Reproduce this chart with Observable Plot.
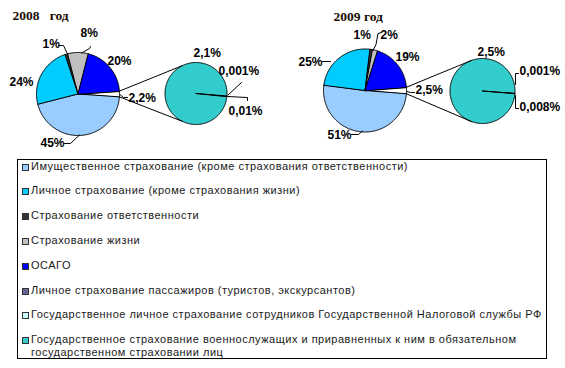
<!DOCTYPE html>
<html><head><meta charset="utf-8">
<script src="https://cdn.jsdelivr.net/npm/d3@7"></script>
<script src="https://cdn.jsdelivr.net/npm/@observablehq/plot@0.6"></script>
<style>
html,body{margin:0;padding:0;background:#fff;}
body{width:565px;height:368px;overflow:hidden;position:relative;font-family:"Liberation Sans",Arial,sans-serif;}
#chart{position:absolute;left:0;top:0;}
#legend{position:absolute;left:17px;top:159px;width:528px;height:198px;border:1px solid #000;background:#fff;}
.item{position:absolute;left:13px;font-size:11px;color:#1a1a1a;line-height:13px;letter-spacing:0.5px;}
.sw{position:absolute;left:4px;width:5px;height:5px;border:1px solid #333;}
</style></head><body>
<div id="chart"></div>
<div id="legend"></div>
<script>
// ---- data ----
const categories = [
  "Имущественное страхование (кроме страхования ответственности)",
  "Личное страхование (кроме страхования жизни)",
  "Страхование ответственности",
  "Страхование жизни",
  "ОСАГО",
  "Личное страхование пассажиров (туристов, экскурсантов)",
  "Государственное личное страхование сотрудников Государственной Налоговой службы РФ",
  "Государственное страхование военнослужащих и приравненных к ним в обязательном государственном страховании лиц"
];
const years = ["2008   год", "2009 год"];
const main2008 = [45, 24, 1, 8, 20];      // first five categories
const other2008 = 2.2;                    // "other" wedge (split into the secondary pie)
const sec2008 = [0.001, 0.01, 2.1];       // last three categories
const main2009 = [51, 25, 1, 2, 19];
const other2009 = 2.5;
const sec2009 = [0.001, 0.008, 2.5];

// ---- styles ----
const colors = ["#99CCFF", "#00CCFF", "#333333", "#C0C0C0", "#0000FF", "#666699", "#CCFFFF", "#33CCCC"];

// ---- layout ----
const W = 565, H = 155;
const deg = Math.PI / 180;
const layout = [
  { c: [77.5, 93.5], r: 41.5, sc: [195.5, 93], sr: 31, secStart: 4 * deg, conn: 116 * deg, title: [12, 15],
    mainLab: [[40, 143], [9, 82], [42, 44], [80, 33], [107, 61]],
    otherLab: [128, 98],
    secLab: [[218, 71], [228, 111], [193, 53]],
    leaders: [
      [[64, 143], [70, 143], [79, 134.5]],
      [[58, 45], [63, 45], [67, 53.5]],
      [[90, 46], [89, 48], [81, 52.5]],
      [[119.5, 94], [123, 97], [127, 97]],
      [[241, 82], [227.5, 94.5]],
      [[227, 96], [247, 97], [247, 100]]
    ] },
  { c: [364.5, 90], r: 41.5, sc: [482, 90.5], sr: 32.5, secStart: 3.5 * deg, conn: 109 * deg, title: [333, 16],
    mainLab: [[327, 135], [298, 62], [353, 35], [380, 35], [395, 57]],
    otherLab: [415, 90],
    secLab: [[519, 71], [519, 107], [477, 52]],
    leaders: [
      [[351, 134], [358, 134], [362, 130.5]],
      [[322, 61], [330, 61]],
      [[381, 32], [377.5, 33], [375.5, 44], [372.5, 50]],
      [[406.5, 91], [410, 92], [414, 92]],
      [[518, 73], [515, 73], [515, 84]],
      [[515, 95], [515, 108], [518, 108]]
    ] }
];

const fmt = v => String(v).replace(".", ",") + "%";

function arcPoly(id, cx, cy, r, a0, a1, fill) {
  const pts = [{ id, x: cx, y: cy, fill }];
  const n = Math.max(1, Math.ceil((a1 - a0) / deg));
  for (let i = 0; i <= n; i++) {
    const a = a0 + (a1 - a0) * i / n;
    pts.push({ id, x: cx + r * Math.cos(a), y: cy + r * Math.sin(a), fill });
  }
  return pts;
}

const polys = [], links = [], labels = [], leaders = [], titles = [];
const sets = [[main2008, other2008, sec2008], [main2009, other2009, sec2009]];
sets.forEach(([main, other, sec], k) => {
  const L = layout[k];
  const [cx, cy] = L.c, r = L.r;
  const total = d3.sum(main) + other;
  const half = other / total * Math.PI;
  polys.push(...arcPoly(`o${k}`, cx, cy, r, -half, half, "#FFFFFF"));
  let a = half;
  main.forEach((v, i) => {
    const a1 = a + v / total * 2 * Math.PI;
    polys.push(...arcPoly(`m${k}-${i}`, cx, cy, r, a, a1, colors[i]));
    const [lx, ly] = L.mainLab[i];
    labels.push({ x: lx, y: ly, text: fmt(v) });
    a = a1;
  });
  labels.push({ x: L.otherLab[0], y: L.otherLab[1], text: fmt(other) });
  const [sx, sy] = L.sc, sr = L.sr;
  const stot = d3.sum(sec);
  let b = L.secStart;
  sec.forEach((v, i) => {
    const b1 = b + v / stot * 2 * Math.PI;
    polys.push(...arcPoly(`s${k}-${i}`, sx, sy, sr, b, b1, colors[5 + i]));
    const [lx, ly] = L.secLab[i];
    labels.push({ x: lx, y: ly, text: fmt(v) });
    b = b1;
  });
  links.push({ x1: cx + r * Math.cos(-half), y1: cy + r * Math.sin(-half), x2: sx + sr * Math.cos(-L.conn), y2: sy + sr * Math.sin(-L.conn) });
  links.push({ x1: cx + r * Math.cos(half), y1: cy + r * Math.sin(half), x2: sx + sr * Math.cos(L.conn), y2: sy + sr * Math.sin(L.conn) });
  L.leaders.forEach((pl, j) => pl.forEach(([x, y]) => leaders.push({ id: `l${k}-${j}`, x, y })));
  titles.push({ x: L.title[0], y: L.title[1], text: years[k] });
});

const chart = Plot.plot({
  width: W, height: H,
  marginTop: 0, marginRight: 0, marginBottom: 0, marginLeft: 0,
  x: { domain: [0, W], range: [0, W], axis: null },
  y: { domain: [0, H], range: [0, H], axis: null },
  color: { type: "identity" },
  style: { background: "#fff", overflow: "visible" },
  marks: [
    Plot.line(polys, { x: "x", y: "y", z: "id", fill: "fill", stroke: "#000", strokeWidth: 1, curve: "linear-closed", strokeLinejoin: "miter" }),
    Plot.link(links, { x1: "x1", y1: "y1", x2: "x2", y2: "y2", stroke: "#000", strokeWidth: 1 }),
    Plot.line(leaders, { x: "x", y: "y", z: "id", stroke: "#000", strokeWidth: 1 }),
    Plot.text(labels, { x: "x", y: "y", text: "text", textAnchor: "start", fontSize: 12, fontWeight: "bold", fontFamily: "Liberation Sans, Arial, sans-serif", fill: "#000" }),
    Plot.text(titles, { x: "x", y: "y", text: "text", textAnchor: "start", fontSize: 13.5, fontWeight: "bold", fontFamily: "Liberation Serif, Times New Roman, serif", fill: "#1a0d00" })
  ]
});
document.getElementById("chart").appendChild(chart);

// legend
const leg = document.getElementById("legend");
categories.forEach((name, i) => {
  const top = -0.5 + i * 24.8;
  const sw = document.createElement("div");
  sw.className = "sw";
  sw.style.top = (top + 4) + "px";
  sw.style.background = colors[i];
  leg.appendChild(sw);
  const t = document.createElement("div");
  t.className = "item";
  t.style.top = top + "px";
  t.style.width = (i === categories.length - 1 ? 492 : 515) + "px";
  t.textContent = name;
  leg.appendChild(t);
});
</script>
</body></html>
